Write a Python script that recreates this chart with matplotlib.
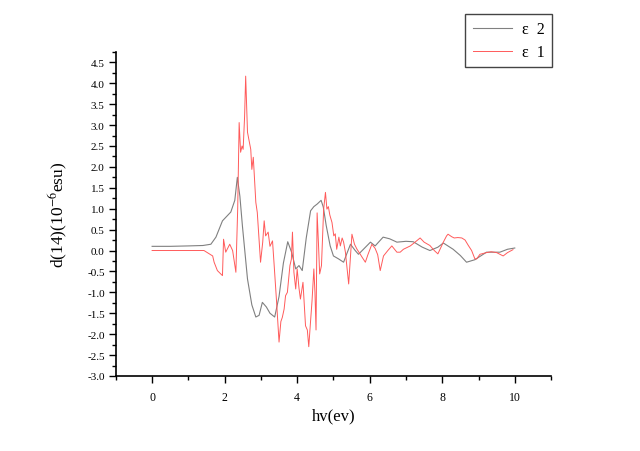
import numpy as np
import matplotlib
matplotlib.use('Agg')
import matplotlib.pyplot as plt
from matplotlib.ticker import MultipleLocator

plt.rcParams['font.family'] = ['Liberation Serif', 'DejaVu Serif']
plt.rcParams['mathtext.fontset'] = 'stix'

# eps2 (gray)
x_e2 = [0, 0.5, 1.0, 1.4, 1.62, 1.76, 1.94, 2.17, 2.28, 2.35, 2.42, 2.49, 2.63, 2.75,
        2.86, 2.95, 3.04, 3.15, 3.25, 3.38, 3.5, 3.62, 3.74, 3.85, 3.96, 4.05, 4.14,
        4.25, 4.37, 4.46, 4.55, 4.66, 4.72, 4.8, 4.91, 5.0, 5.14, 5.28, 5.38, 5.47,
        5.6, 5.69, 5.85, 6.02, 6.15, 6.37, 6.55, 6.75, 7.0, 7.2, 7.45, 7.66, 7.88,
        8.03, 8.3, 8.5, 8.67, 8.9, 9.22, 9.59, 9.8, 10.0]
y_e2 = [0.1, 0.1, 0.11, 0.12, 0.15, 0.32, 0.71, 0.92, 1.2, 1.75, 1.3, 0.59, -0.68, -1.3,
        -1.59, -1.55, -1.24, -1.35, -1.5, -1.59, -1.1, -0.3, 0.21, -0.05, -0.44, -0.36, -0.48,
        0.3, 0.95, 1.05, 1.11, 1.2, 1.04, 0.6, 0.11, -0.13, -0.2, -0.28, -0.05, 0.15,
        0.0, -0.09, 0.05, 0.2, 0.11, 0.32, 0.28, 0.2, 0.22, 0.21, 0.08, 0.0, 0.08,
        0.18, 0.03, -0.12, -0.28, -0.22, -0.04, -0.04, 0.03, 0.06]

# eps1 (red)
x_e1 = [0, 0.5, 1.0, 1.43, 1.67, 1.71, 1.8, 1.94, 1.97, 2.03, 2.14, 2.22, 2.31, 2.36,
        2.4, 2.44, 2.48, 2.51, 2.55, 2.58, 2.63, 2.68, 2.72, 2.75, 2.79, 2.86, 2.9,
        2.99, 3.05, 3.09, 3.13, 3.2, 3.25, 3.32, 3.36, 3.43, 3.5, 3.55, 3.59, 3.64,
        3.68, 3.73, 3.8, 3.84, 3.87, 3.91, 3.96, 4.0, 4.05, 4.09, 4.16, 4.23, 4.28,
        4.32, 4.36, 4.41, 4.46, 4.49, 4.52, 4.55, 4.59, 4.62, 4.67, 4.73, 4.78, 4.82,
        4.86, 4.9, 4.96, 5.01, 5.05, 5.09, 5.15, 5.19, 5.24, 5.28, 5.33, 5.42, 5.51,
        5.58, 5.65, 5.74, 5.79, 5.88, 5.95, 6.06, 6.15, 6.22, 6.29, 6.38, 6.5, 6.61,
        6.75, 6.84, 6.93, 7.12, 7.25, 7.39, 7.5, 7.66, 7.78, 7.88, 8.03, 8.12, 8.16,
        8.26, 8.33, 8.43, 8.54, 8.63, 8.72, 8.81, 8.9, 8.95, 9.04, 9.22, 9.35, 9.5,
        9.68, 9.8, 9.95]
y_e1 = [0, 0, 0, 0, -0.13, -0.28, -0.48, -0.6, 0.27, -0.04, 0.15, 0.0, -0.52, 1.0,
        3.06, 2.35, 2.5, 2.42, 3.2, 4.17, 2.83, 2.6, 2.42, 1.94, 2.23, 1.15, 0.91,
        -0.28, 0.2, 0.71, 0.35, 0.44, 0.1, 0.23, -0.28, -1.2, -2.19, -1.7, -1.6, -1.4,
        -1.08, -1.0, -0.36, -0.21, 0.44, -0.52, -0.92, -0.44, -0.9, -1.16, -0.76, -1.8, -1.9,
        -2.3, -1.8, -1.2, -0.44, -1.0, -1.9, 0.9, 0.1, -0.56, -0.36, 0.99, 1.39, 0.99,
        1.05, 0.85, 0.67, 0.35, 0.4, 0.03, 0.32, 0.11, 0.3, 0.2, -0.04, -0.8, 0.39,
        0.15, 0.03, -0.09, -0.16, -0.28, -0.1, 0.15, 0.05, -0.1, -0.48, -0.13, 0.0, 0.11,
        -0.04, -0.04, 0.03, 0.11, 0.2, 0.3, 0.2, 0.12, 0.0, -0.08, 0.2, 0.35, 0.39,
        0.33, 0.3, 0.31, 0.3, 0.25, 0.12, 0.0, -0.2, -0.2, -0.09, -0.05, -0.03, -0.05,
        -0.13, -0.05, 0.02]

fig = plt.figure(figsize=(6.4, 4.52), dpi=100)
ax = fig.add_axes([0.181, 0.166, 0.68, 0.717])

ax.plot(x_e2, y_e2, color='#808080', lw=0.8, label='ε  2')
ax.plot(x_e1, y_e1, color='#ff5a5a', lw=0.7, label='ε  1')

ax.set_xlim(-1, 11)
ax.set_ylim(-3, 4.75)
ax.xaxis.set_major_locator(MultipleLocator(2))
ax.xaxis.set_minor_locator(MultipleLocator(1))
ax.yaxis.set_minor_locator(MultipleLocator(0.25))
ax.set_yticks(np.arange(-3.0, 4.51, 0.5))
ax.set_yticklabels(['%.1f' % v for v in np.arange(-3.0, 4.51, 0.5)])

for s in ['top', 'right']:
    ax.spines[s].set_visible(False)
for s in ['left', 'bottom']:
    ax.spines[s].set_linewidth(1.2)
ax.tick_params(which='major', direction='out', length=5, width=1)
ax.tick_params(which='minor', direction='out', length=3, width=1)
ax.tick_params(axis='x', labelsize=8.5, pad=6)
ax.tick_params(axis='y', labelsize=8, pad=3)

ax.set_xlabel('hv(ev)', fontsize=12, labelpad=3)
ax.set_ylabel('d(14)(10$^{-6}$esu)', fontsize=12.5, labelpad=12)

fig.legend(loc='upper right', bbox_to_anchor=(0.8625, 0.967), fontsize=11.5,
           fancybox=False, edgecolor='#444444', framealpha=1, handlelength=2.5,
           borderpad=0.45, labelspacing=0.45, handletextpad=0.6, borderaxespad=0)

plt.savefig('out.png', dpi=100)
